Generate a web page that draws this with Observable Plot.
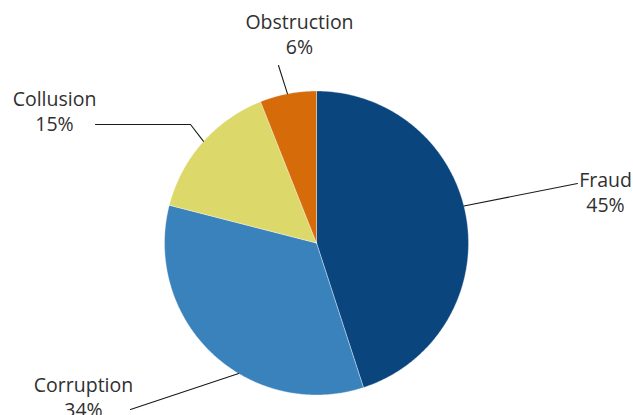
<!DOCTYPE html>
<html>
<head>
<meta charset="utf-8">
<script src="https://cdn.jsdelivr.net/npm/d3@7"></script>
<script src="https://cdn.jsdelivr.net/npm/@observablehq/plot@0.6"></script>
<style>
  html, body { margin: 0; padding: 0; background: #fff; }
  #chart svg { display: block; }
</style>
</head>
<body>
<div id="chart"></div>
<script>
// ---- data ----
const categories = ["Fraud", "Corruption", "Collusion", "Obstruction"];
const shares = [45, 34, 15, 6];
const colors = ["#0a457e", "#3a82bc", "#dcd86a", "#d66b0a"];

// ---- layout (pixels) ----
const W = 633, H = 415;
const CX = 316, CY = 242.5, R = 152;
// label centre x, baseline of name line, baseline of percent line
const labelX = [605, 83, 54, 299];
const labelY1 = [186, 391, 105, 28];
const labelY2 = [211, 416, 130, 53];
// leader lines: angle (deg clockwise from top) where line meets pie, plus outer points
const leaderAngle = [75.9, 210.8, 312, 349];
const leaderOuter = [
  [[577, 183]],
  [[130, 409]],
  [[190, 124], [95, 124]],
  [[278, 65]]
];

// ---- build slices ----
const total = d3.sum(shares);
const pt = (deg, r = R) => {
  const a = deg * Math.PI / 180;
  return [CX + r * Math.sin(a), CY - r * Math.cos(a)];
};
const slicePts = [];
let start = 0;
categories.forEach((c, i) => {
  const sweep = shares[i] / total * 360;
  slicePts.push({cat: c, x: CX, y: CY});
  const n = Math.max(2, Math.ceil(sweep * 2));
  for (let k = 0; k <= n; k++) {
    const [x, y] = pt(start + sweep * k / n);
    slicePts.push({cat: c, x, y});
  }
  slicePts.push({cat: c, x: CX, y: CY});
  start += sweep;
});

const leaderPts = [];
categories.forEach((c, i) => {
  const [x0, y0] = pt(leaderAngle[i]);
  leaderPts.push({cat: c, x: x0, y: y0});
  leaderOuter[i].forEach(([x, y]) => leaderPts.push({cat: c, x, y}));
});

const labels1 = categories.map((c, i) => ({x: labelX[i], y: labelY1[i], t: c}));
const labels2 = categories.map((c, i) => ({x: labelX[i], y: labelY2[i], t: shares[i] + "%"}));

const chart = Plot.plot({
  width: W,
  height: H,
  margin: 0,
  x: {domain: [0, W], range: [0, W], axis: null},
  y: {domain: [0, H], range: [0, H], axis: null},
  color: {domain: categories, range: colors},
  style: {fontFamily: "'Open Sans', sans-serif", background: "#fff"},
  marks: [
    Plot.line(slicePts, {x: "x", y: "y", z: "cat", fill: "cat", stroke: "#ffffff", strokeWidth: 0.6, strokeOpacity: 0.6, curve: "linear-closed"}),
    Plot.line(leaderPts, {x: "x", y: "y", z: "cat", stroke: "#1a1a1a", strokeWidth: 1.1}),
    Plot.text(labels1, {x: "x", y: "y", text: "t", textAnchor: "middle", lineAnchor: "bottom", fontSize: 19.5, fill: "#303030"}),
    Plot.text(labels2, {x: "x", y: "y", text: "t", textAnchor: "middle", lineAnchor: "bottom", fontSize: 19.5, fill: "#303030"})
  ]
});
document.getElementById("chart").appendChild(chart);
</script>
</body>
</html>
